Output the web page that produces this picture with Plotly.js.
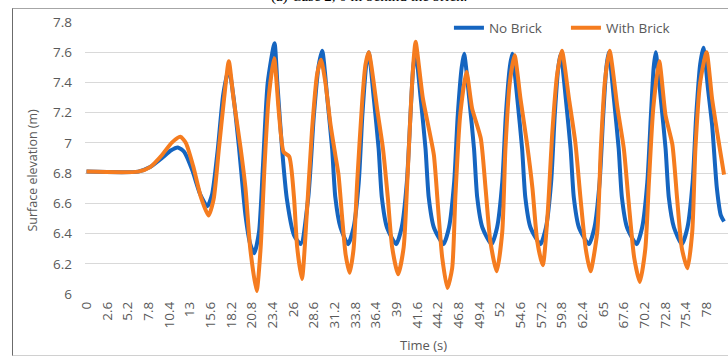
<!DOCTYPE html>
<html>
<head>
<meta charset="utf-8">
<script src="https://cdn.plot.ly/plotly-3.0.1.min.js"></script>
<style>
  html, body { margin: 0; padding: 0; background: #ffffff; }
  #wrap { position: relative; width: 728px; height: 358px; overflow: hidden; }
  #frame { position: absolute; left: 12px; top: 8px; width: 730px; height: 346px;
           border-left: 1.5px solid #6b6b6b; border-top: 1px solid #a6a6a6; border-bottom: 1px solid #d0d0d0; }
  #chart { position: absolute; left: 0; top: 0; width: 728px; height: 358px; }
</style>
</head>
<body>
<div id="wrap">
  <div id="frame"></div>
  <div id="chart"></div>
</div>
<script>
// Time (s) and surface elevation (m)
const timeNoBrick = [0,6.5,8.0,9.5,10.6,11.5,12.3,13.3,14.3,15.2,15.8,16.5,17.2,17.9,18.5,19.2,20.0,20.6,21.1,21.7,22.2,22.8,23.65,24.0,24.6,25.2,26.1,26.95,27.9,28.6,29.2,29.65,30.3,30.9,31.3,31.95,32.9,33.6,34.25,34.7,35.2,35.5,36.15,36.75,37.15,37.8,38.95,39.65,40.3,40.75,41.1,41.4,42.05,42.65,43.05,43.7,44.9,45.6,46.25,46.7,47.2,47.5,48.15,48.75,49.15,49.8,50.95,51.65,52.3,52.75,53.25,53.55,54.2,54.8,55.2,55.85,57.1,57.8,58.45,58.9,59.35,59.65,60.3,60.9,61.3,61.95,63.2,63.9,64.55,65.0,65.4,65.7,66.35,66.95,67.35,68.0,69.2,69.9,70.55,71.0,71.35,71.6,72.25,72.85,73.25,73.9,74.9,75.6,76.25,76.7,77.2,77.6,78.2,78.7,79.3,79.8,80.2];
const elevNoBrick = [6.81,6.81,6.84,6.90,6.95,6.97,6.94,6.82,6.66,6.58,6.66,6.95,7.32,7.49,7.30,6.96,6.52,6.33,6.27,6.41,6.85,7.40,7.66,7.40,6.96,6.63,6.39,6.33,6.64,7.18,7.51,7.61,7.29,6.96,6.64,6.44,6.33,6.44,6.74,7.18,7.52,7.60,7.29,6.96,6.64,6.44,6.33,6.44,6.74,7.18,7.50,7.60,7.29,6.96,6.64,6.44,6.33,6.44,6.74,7.18,7.50,7.59,7.29,6.96,6.64,6.44,6.33,6.44,6.74,7.18,7.50,7.59,7.29,6.96,6.64,6.44,6.33,6.44,6.74,7.18,7.50,7.59,7.29,6.96,6.64,6.44,6.33,6.44,6.74,7.18,7.50,7.60,7.29,6.96,6.64,6.44,6.33,6.44,6.74,7.18,7.50,7.60,7.29,6.96,6.64,6.44,6.33,6.44,6.74,7.18,7.52,7.63,7.35,7.12,6.70,6.52,6.48];

const timeWithBrick = [0,6.5,8.0,9.5,10.7,11.8,12.5,13.4,14.4,15.35,16.0,16.65,17.3,17.9,18.5,19.4,20.0,20.6,21.4,21.9,22.4,22.9,23.6,24.2,24.8,25.5,26.1,26.5,27.1,27.7,28.35,29.0,29.5,30.05,30.7,31.3,31.7,32.2,32.6,33.1,33.6,34.05,34.7,35.1,35.5,36.6,37.3,37.9,38.45,39.2,39.9,40.35,40.85,41.2,41.4,42.3,43.2,43.7,44.3,44.75,45.4,46.0,46.4,47.0,47.8,48.5,49.6,50.2,50.8,51.6,52.3,52.7,53.25,53.85,54.6,55.4,56.1,56.7,57.4,58.0,58.6,59.2,59.8,60.7,61.5,62.15,62.8,63.4,64.25,64.7,65.2,65.8,66.8,67.6,68.2,68.9,69.6,70.3,70.75,71.3,72.05,72.85,73.7,74.3,74.9,75.6,76.2,76.6,77.2,78.0,78.7,79.55,80.2];
const elevWithBrick = [6.81,6.81,6.84,6.92,7.00,7.04,7.00,6.85,6.64,6.52,6.63,6.96,7.29,7.54,7.29,6.96,6.70,6.30,6.02,6.30,6.85,7.29,7.56,7.20,6.94,6.91,6.64,6.31,6.10,6.52,7.07,7.45,7.55,7.40,7.12,6.92,6.79,6.48,6.26,6.14,6.30,6.74,7.29,7.52,7.60,7.21,6.96,6.64,6.31,6.13,6.31,6.74,7.29,7.58,7.67,7.30,7.06,6.92,6.52,6.24,6.04,6.17,6.64,7.18,7.47,7.23,7.03,6.70,6.35,6.15,6.41,6.96,7.40,7.58,7.29,7.00,6.70,6.35,6.19,6.52,7.07,7.45,7.61,7.29,7.00,6.63,6.30,6.15,6.41,6.96,7.40,7.61,7.23,6.96,6.61,6.24,6.08,6.30,6.74,7.23,7.54,7.18,6.99,6.63,6.30,6.17,6.41,6.96,7.40,7.60,7.29,7.00,6.79];

const xTickVals = [0,2.6,5.2,7.8,10.4,13,15.6,18.2,20.8,23.4,26,28.6,31.2,33.8,36.4,39,41.6,44.2,46.8,49.4,52,54.6,57.2,59.8,62.4,65,67.6,70.2,72.8,75.4,78];
const xTickText = ["0","2.6","5.2","7.8","10.4","13","15.6","18.2","20.8","23.4","26","28.6","31.2","33.8","36.4","39","41.6","44.2","46.8","49.4","52","54.6","57.2","59.8","62.4","65","67.6","70.2","72.8","75.4","78"];
const yTickVals = [6,6.2,6.4,6.6,6.8,7,7.2,7.4,7.6,7.8];
const yTickText = ["6","6.2","6.4","6.6","6.8","7","7.2","7.4","7.6","7.8"];

const seriesNames = ["No Brick", "With Brick"];
const seriesColors = ["#1565C0", "#F57C1F"];

const fontFam = "'Open Sans', 'Noto Sans', sans-serif";
const grey = "#595959";

const traces = [
  { x: timeNoBrick, y: elevNoBrick, name: seriesNames[0], type: "scatter", mode: "lines",
    line: { color: seriesColors[0], width: 4, shape: "spline", smoothing: 0.6 } },
  { x: timeWithBrick, y: elevWithBrick, name: seriesNames[1], type: "scatter", mode: "lines",
    line: { color: seriesColors[1], width: 4, shape: "spline", smoothing: 0.6 } }
];

const layout = {
  width: 728, height: 358,
  margin: { l: 85, r: 0, t: 22, b: 64 },
  paper_bgcolor: "rgba(0,0,0,0)",
  plot_bgcolor: "rgba(0,0,0,0)",
  font: { family: fontFam, size: 12, color: grey },
  showlegend: true,
  legend: { orientation: "h", x: 0.566, y: 0.978, xanchor: "left", yanchor: "middle",
            bgcolor: "rgba(0,0,0,0)", font: { family: fontFam, size: 13.5, color: grey },
            itemwidth: 30, entrywidth: 72, tracegroupgap: 0 },
  xaxis: {
    range: [-0.19, 80.7], tickvals: xTickVals, ticktext: xTickText, tickangle: -90,
    showgrid: false, zeroline: false, showline: false, ticks: "",
    tickfont: { family: fontFam, size: 13.5, color: grey }, ticklabelstandoff: 4
  },
  yaxis: {
    range: [6, 7.8], tickvals: yTickVals, ticktext: yTickText,
    showgrid: true, gridcolor: "#d9d9d9", gridwidth: 1, zeroline: false, showline: false, ticks: "",
    tickfont: { family: fontFam, size: 13.5, color: grey }, ticklabelstandoff: 12
  },
  annotations: [
    { text: "Surface elevation (m)", xref: "paper", yref: "paper", x: -0.081, y: 0.457,
      textangle: -90, showarrow: false, xanchor: "center", yanchor: "middle",
      font: { family: fontFam, size: 12.5, color: grey } },
    { text: "Time (s)", xref: "paper", yref: "paper", x: 0.5257, y: -0.1886,
      showarrow: false, xanchor: "center", yanchor: "middle",
      font: { family: fontFam, size: 13, color: grey } },
    { text: "(a) Case 2, 0 m behind the brick.", xref: "paper", yref: "paper", x: 0.4417, y: 1.055,
      showarrow: false, xanchor: "center", yanchor: "bottom",
      font: { family: "'Liberation Serif', serif", size: 15, color: "#000000" } }
  ]
};

Plotly.newPlot("chart", traces, layout, { staticPlot: true, displayModeBar: false });
</script>
</body>
</html>
